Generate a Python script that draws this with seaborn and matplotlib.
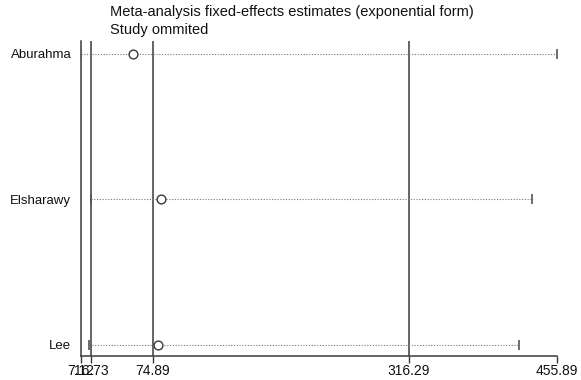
import matplotlib
matplotlib.use("Agg")
import matplotlib.pyplot as plt
import seaborn as sns
import pandas as pd

studies = ["Aburahma", "Elsharawy", "Lee"]
estimates = [56.4, 82.3, 79.4]
lower_ci = [7.12, 16.3, 14.7]
upper_ci = [455.89, 432.3, 420.3]
overall = [16.73, 74.89, 316.29]
tick_values = [7.12, 16.73, 74.89, 316.29, 455.89]
tick_labels = ["7.12", "16.73", "74.89", "316.29", "455.89"]
title_lines = ["Meta-analysis fixed-effects estimates (exponential form)", "Study ommited"]

sns.set_style("white")
plt.rcParams["font.family"] = ["Liberation Sans", "DejaVu Sans"]

df = pd.DataFrame({"study": studies, "est": estimates, "lo": lower_ci, "hi": upper_ci})
df["y"] = range(len(df))

fig = plt.figure(figsize=(5.81, 3.80), dpi=100)
top_px, axis_px = 41, 356
ax = fig.add_axes([81/581, 1-axis_px/380, (557-81)/581, (axis_px-top_px)/380])

dark = "#3a3a3a"
ax.hlines(df["y"], df["lo"], df["hi"], colors="#777777", linestyles=(0, (1, 1.5)), linewidth=0.8, zorder=2)
sns.scatterplot(data=df, x="lo", y="y", marker="|", s=60, color="#555555", linewidth=1.2, ax=ax, zorder=3, legend=False)
sns.scatterplot(data=df, x="hi", y="y", marker="|", s=60, color="#555555", linewidth=1.2, ax=ax, zorder=3, legend=False)
for v in overall:
    ax.axvline(v, color=dark, linewidth=1.1, zorder=1)
sns.scatterplot(data=df, x="est", y="y", marker="o", s=40, facecolor="white", edgecolor=dark, linewidth=1.0, ax=ax, zorder=4, legend=False)

ax.set_xlim(tick_values[0], tick_values[-1])
ax.set_ylim(2 + 11/145.5, -13/145.5)
ax.set_xticks(tick_values)
ax.set_xticklabels(tick_labels, fontsize=10, color="#111111")
ax.set_yticks(df["y"])
ax.set_yticklabels(studies, fontsize=9.5, color="#111111")
ax.tick_params(axis="y", length=0, pad=7)
ax.tick_params(axis="x", length=5, width=1.0, color=dark, pad=0.5, bottom=True)
ax.set_xlabel("")
ax.set_ylabel("")
for s in ["top", "right"]:
    ax.spines[s].set_visible(False)
for s in ["left", "bottom"]:
    ax.spines[s].set_color(dark)
    ax.spines[s].set_linewidth(1.1)

fig.text(110/581, 1-12/380, title_lines[0], fontsize=10.5, va="center", ha="left", color="#111111")
fig.text(110/581, 1-30/380, title_lines[1], fontsize=10.5, va="center", ha="left", color="#111111")

fig.savefig("out.png", dpi=100)
